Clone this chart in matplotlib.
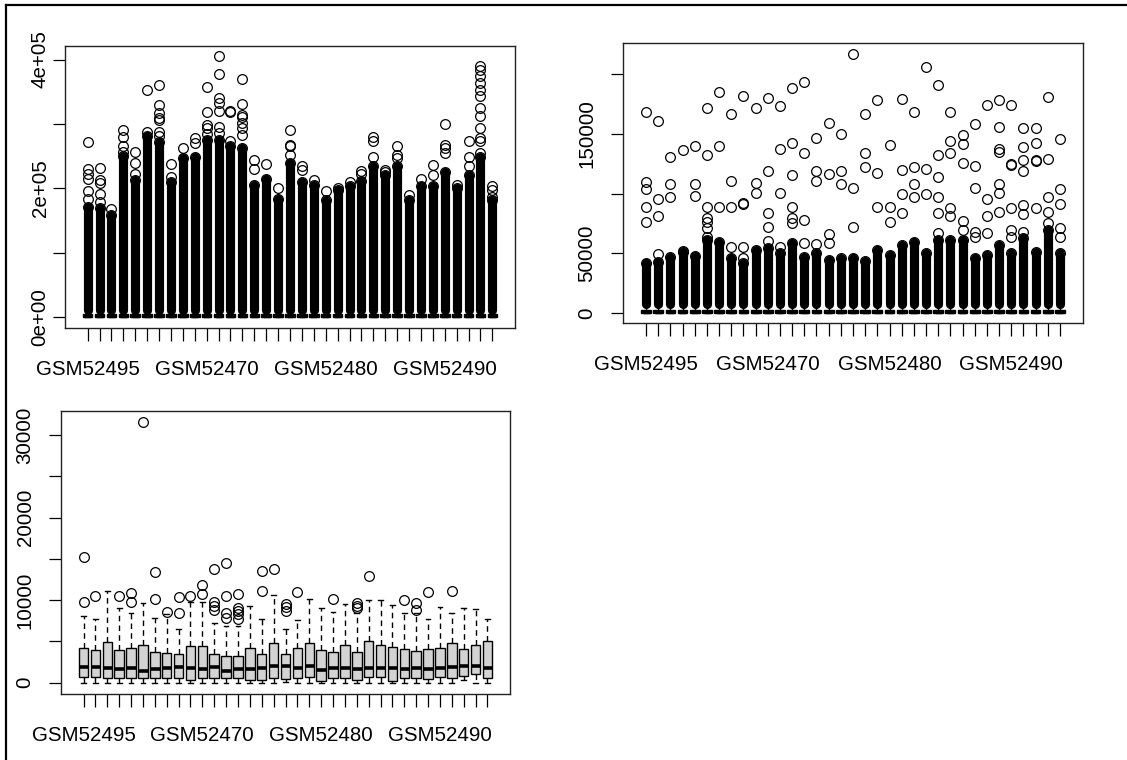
import matplotlib
matplotlib.use('Agg')
import matplotlib.pyplot as plt
from matplotlib.lines import Line2D

plt.rcParams['font.family'] = ['Liberation Sans', 'DejaVu Sans']

# ---------------- data ----------------
samples = ['GSM52495', 'GSM52496', 'GSM52497', 'GSM52498', 'GSM52499',
           'GSM52500', 'GSM52501', 'GSM52502', 'GSM52503', 'GSM52504',
           'GSM52470', 'GSM52471', 'GSM52472', 'GSM52473', 'GSM52474',
           'GSM52475', 'GSM52476', 'GSM52477', 'GSM52478', 'GSM52479',
           'GSM52480', 'GSM52481', 'GSM52482', 'GSM52483', 'GSM52484',
           'GSM52485', 'GSM52486', 'GSM52487', 'GSM52488', 'GSM52489',
           'GSM52490', 'GSM52491', 'GSM52492', 'GSM52493', 'GSM52494']
shown_label_idx = [0, 10, 20, 30]

# Panel 1: raw intensities (box squashed near zero, dense outlier columns)
p1_box = dict(whislo=0, q1=500, med=2000, q3=5000, whishi=11000)
p1_dense_top = [171000, 169000, 158000, 250000, 213000, 282000, 272000, 210000,
                247000, 249000, 275000, 275000, 266000, 262000, 205000, 214000,
                184000, 240000, 210000, 205000, 182000, 197000, 203000, 211000,
                234000, 221000, 234000, 182000, 203000, 203000, 226000, 200000,
                220000, 249000, 182000]
p1_outliers = [
    [272000, 230000, 223000, 215000, 196000, 184000],
    [232000, 213000, 208000, 192000, 179000],
    [168000],
    [291000, 279000, 265000, 257000],
    [257000, 239000, 223000],
    [353000, 288000],
    [361000, 330000, 317000, 309000, 306000, 288000, 282000],
    [238000, 218000],
    [262000],
    [278000, 271000],
    [357000, 318000, 299000, 294000, 285000],
    [405000, 378000, 340000, 332000, 320000, 295000, 286000],
    [320000, 318000, 273000],
    [370000, 331000, 314000, 311000, 301000, 294000, 283000],
    [244000, 230000],
    [238000],
    [200000],
    [291000, 268000, 265000, 252000],
    [234000, 229000],
    [213000],
    [196000],
    [201000],
    [210000],
    [227000, 223000],
    [279000, 273000, 249000],
    [229000, 226000],
    [266000, 252000, 247000],
    [190000],
    [215000],
    [236000, 221000],
    [300000, 268000, 262000, 255000],
    [205000],
    [274000, 249000, 234000],
    [390000, 384000, 374000, 364000, 353000, 343000, 325000, 312000, 294000,
     278000, 273000, 255000],
    [203000, 198000, 187000],
]
p1_yticks = [0, 100000, 200000, 300000, 400000]
p1_yticklabels = ['0e+00', '', '2e+05', '', '4e+05']

# Panel 2
p2_box = dict(whislo=0, q1=200, med=1000, q3=2800, whishi=6000)
p2_dense_bottom = 7500
p2_dense_top = [41700, 43000, 47200, 51400, 47800, 61000, 59700, 45800, 41700,
                52800, 54200, 50000, 58300, 47200, 50000, 44400, 45800, 45800,
                43100, 52800, 48600, 56900, 59700, 50000, 61100, 61100, 61100,
                45800, 48600, 56900, 50000, 62500, 51400, 69400, 50600]
p2_outliers = [
    [168000, 109700, 103600, 88900, 76400],
    [161100, 95800, 81100, 49400],
    [130600, 108300, 96700],
    [136100, 52200],
    [139700, 108300, 97800],
    [171400, 131900, 88900, 79200, 76400, 70800, 64000],
    [185300, 139700, 88900],
    [166700, 110300, 88900, 55000],
    [181400, 92200, 91500, 55500, 46400],
    [171400, 109200, 100600],
    [180000, 118600, 83900, 72200, 60600],
    [173600, 137500, 100600, 55500],
    [188100, 142200, 115300, 88900, 79200, 75600],
    [193100, 134200, 77800, 58900],
    [146700, 118900, 110300, 57500],
    [158900, 116700, 65800, 58900],
    [150000, 118600, 108300],
    [216700, 104700, 72200],
    [166700, 134200, 122200],
    [178300, 117200, 88900],
    [140800, 88300, 76400],
    [179200, 119400, 99200, 83900],
    [168000, 122200, 108300, 96700],
    [205600, 120800, 99400],
    [190800, 131900, 113900, 97200, 83300, 66700],
    [168000, 143600, 133900, 87500, 81100],
    [148600, 141100, 125800, 76900, 69400],
    [157800, 123100, 104700, 68100, 63300],
    [174200, 95300, 81100, 66700],
    [178300, 155600, 137500, 134700, 108300, 100600, 84700],
    [174200, 125000, 124000, 87500, 69400, 63300],
    [154700, 138900, 127800, 118900, 90800, 82500, 68100],
    [154700, 142200, 128300, 127300, 88100],
    [180600, 128600, 96700, 84700, 75000],
    [145300, 103600, 91100, 70800, 63300],
]
p2_yticks = [0, 50000, 100000, 150000, 200000]
p2_yticklabels = ['0', '50000', '', '150000', '']

# Panel 3: proper boxplots
p3_whislo = [0, 0, 0, 0, 0, 0, 0, 0, 0, 0, 0, 0, 0, 0, 0, 0, 0, 80, 0, 0,
             0, 0, 0, 0, 0, 0, 0, 0, 0, 0, 0, 0, 320, 0, 0]
p3_q1 = [646, 646, 525, 525, 525, 525, 525, 525, 525, 323, 525, 525, 525, 525,
         323, 323, 525, 400, 525, 646, 242, 525, 525, 323, 727, 727, 242, 525,
         525, 444, 646, 525, 848, 1010, 525]
p3_med = [1938, 1938, 1736, 1655, 1736, 1453, 1615, 1736, 1938, 1736, 1655,
          1938, 1413, 1615, 1615, 1736, 2020, 2020, 1736, 2060, 1534, 1736,
          1736, 1615, 1736, 1736, 1736, 1615, 1736, 1655, 1736, 1938, 2060,
          2060, 1736]
p3_q3 = [4240, 3956, 4885, 3956, 4160, 4560, 3755, 3550, 3430, 4440, 4440,
         3430, 3270, 3270, 4240, 3430, 4760, 3430, 4240, 4760, 3956, 3755,
         4560, 3755, 5090, 4560, 4360, 4080, 3880, 4080, 4240, 4760, 4080,
         4560, 5090]
p3_whishi = [8115, 7670, 11140, 9000, 8400, 9690, 7870, 8300, 6500, 9810, 9810,
             7190, 6900, 6900, 9330, 7670, 10620, 6460, 7590, 10130, 9000, 8600,
             9490, 8480, 10010, 10010, 9410, 8400, 8400, 7670, 9200, 8400, 9000,
             8880, 7710]
p3_outliers = [
    [15260, 9730], [10500], [], [10500], [10900, 9810], [31530],
    [13440, 10130], [8600], [10330, 8480], [10500], [11830, 10700],
    [13770, 9730, 9280, 8800], [14450, 10500, 8400, 7800],
    [10700, 9000, 8700, 8280, 7670], [], [13560, 11140], [13770],
    [9530, 9200, 8680], [10940], [], [], [10130], [], [9610, 9300, 9000],
    [12960], [], [], [10010], [9610, 8800], [10940], [], [11140], [], [], [],
]
p3_yticks = [0, 5000, 10000, 15000, 20000, 25000, 30000]
p3_yticklabels = ['0', '', '10000', '', '20000', '', '30000']

# ---------------- drawing ----------------
W, H = 1127, 760
fig = plt.figure(figsize=(W / 100, H / 100), dpi=100)
fig.patch.set_facecolor('white')

def rect(x0, y0, x1, y1):
    return [x0 / W, 1 - y1 / H, (x1 - x0) / W, (y1 - y0) / H]

n = len(samples)
positions = list(range(1, n + 1))
flierprops = dict(marker='o', markerfacecolor='none', markeredgecolor='black',
                  markersize=7, markeredgewidth=0.9, linestyle='none')

def draw_panel(ax, stats, yticks, yticklabels, ylim, ypad,
               dense_bottom=None, dense_top=None):
    ax.bxp(stats, positions=positions, widths=0.8, patch_artist=True,
           capwidths=0.4,
           boxprops=dict(facecolor='#d3d3d3', edgecolor='black', linewidth=1.0),
           medianprops=dict(color='black', linewidth=2.6, solid_capstyle='butt'),
           whiskerprops=dict(color='black', linewidth=1.0, linestyle=(0, (4, 3))),
           capprops=dict(color='black', linewidth=1.0),
           flierprops=flierprops)
    if dense_top is not None:
        lc = ax.vlines(positions, dense_bottom, dense_top, colors='black',
                       linewidth=6.6, zorder=3)
        lc.set_capstyle('round')
    ax.set_xlim(-0.9, n + 1.9)
    ax.set_ylim(*ylim)
    ax.set_xticks(positions)
    ax.set_xticklabels([s if i in shown_label_idx else '' for i, s in enumerate(samples)])
    ax.set_yticks(yticks)
    ax.set_yticklabels(yticklabels)
    ax.tick_params(axis='both', length=9, width=0.9, direction='out',
                   labelsize=14.8, colors='black')
    ax.tick_params(axis='x', pad=14)
    ax.tick_params(axis='y', pad=ypad, labelrotation=90)
    for lab in ax.get_yticklabels():
        lab.set_va('center')
    for sp in ax.spines.values():
        sp.set_linewidth(1.0)
        sp.set_color('#222222')

# Panel 1
ax1 = fig.add_axes(rect(65, 46, 515, 328))
stats1 = []
for i in range(n):
    d = dict(p1_box)
    d['fliers'] = [p1_dense_top[i]] + p1_outliers[i]
    stats1.append(d)
draw_panel(ax1, stats1, p1_yticks, p1_yticklabels, (-16800, 421000), 2,
           dense_bottom=p1_box['whishi'], dense_top=p1_dense_top)

# Panel 2
ax2 = fig.add_axes(rect(623, 43, 1083, 323))
stats2 = []
for i in range(n):
    d = dict(p2_box)
    d['fliers'] = [p2_dense_top[i]] + p2_outliers[i]
    stats2.append(d)
draw_panel(ax2, stats2, p2_yticks, p2_yticklabels, (-8400, 226000), 10,
           dense_bottom=p2_dense_bottom, dense_top=p2_dense_top)

# Panel 3
ax3 = fig.add_axes(rect(61, 411, 510, 694))
stats3 = []
for i in range(n):
    stats3.append(dict(whislo=p3_whislo[i], q1=p3_q1[i], med=p3_med[i],
                       q3=p3_q3[i], whishi=p3_whishi[i], fliers=p3_outliers[i]))
draw_panel(ax3, stats3, p3_yticks, p3_yticklabels, (-1370, 32900), 10)

# screenshot frame (top and left edges)
fig.add_artist(Line2D([6 / W, 1.0], [1 - 5 / H, 1 - 5 / H], color='black',
                      linewidth=1.6, transform=fig.transFigure))
fig.add_artist(Line2D([6 / W, 6 / W], [0.0, 1 - 5 / H], color='black',
                      linewidth=1.6, transform=fig.transFigure))

fig.savefig('out.png', dpi=100, facecolor='white')
